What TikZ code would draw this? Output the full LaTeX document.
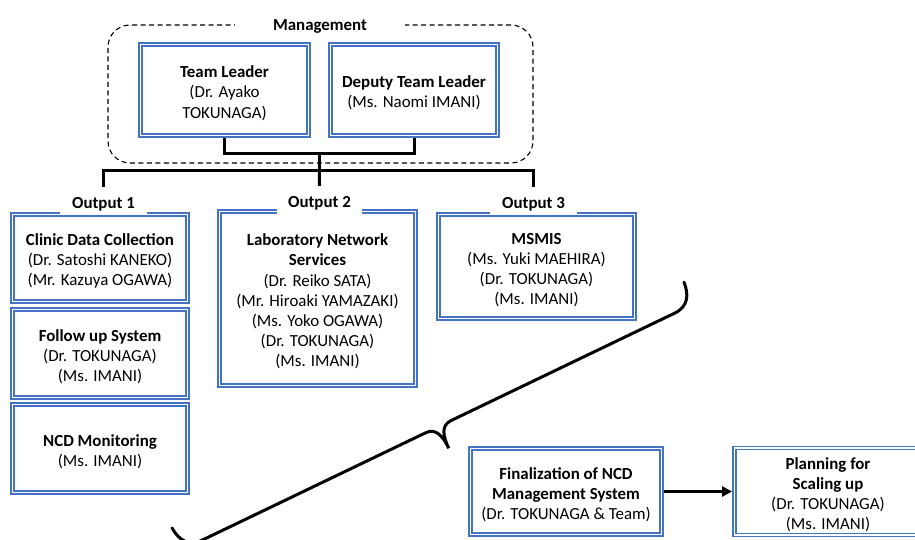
\documentclass[tikz,border=0pt]{standalone}
\usepackage{fontspec}
\setmainfont{Carlito}
\usetikzlibrary{arrows.meta}
\definecolor{boxblue}{HTML}{4472C4}
% invisible strut that gives every box's first line the same top room
\newcommand\firstline{\rule{0pt}{18pt}}
\begin{document}
\begin{tikzpicture}[x=1pt,y=-1pt,
  txt/.style={font=\fontsize{16.9}{20.2}\selectfont},
  box/.style={txt, draw=boxblue, line width=1.6pt, double=white,
    double distance=1.6pt, fill=white, align=center, inner sep=0pt,
    outer sep=2.4pt},
  tag/.style={fill=white, inner sep=0pt, minimum height=28pt,
    text height=17pt, text depth=2.5pt,
    font=\fontsize{16.9}{20.2}\selectfont\bfseries},
  conn/.style={line width=3pt, draw=black},
  frame/.style={draw=black, line width=1.1pt, dash pattern=on 5pt off 3.5pt,
    rounded corners=22pt, inner sep=0pt},
]
\useasboundingbox (0,0) rectangle (915,539);
\clip (0,0) rectangle (915,539);

% management group
\node[frame, minimum width=425pt, minimum height=138pt] (mgmt) at (320.5,94) {};
\node[tag, minimum width=170pt] (mgmttitle) at (320,23) {Management};

\node[box, minimum width=168pt, minimum height=91pt] (tl) at (224.5,90)
  {\firstline\textbf{Team Leader}\\(Dr. Ayako\\TOKUNAGA)};
\node[box, minimum width=167pt, minimum height=91pt] (dtl) at (414,90)
  {\firstline\textbf{Deputy Team Leader}\\(Ms. Naomi IMANI)};

% output 1
\node[box, minimum width=175pt, minimum height=87pt] (clinic) at (100,258)
  {\firstline\textbf{Clinic Data Collection}\\(Dr. Satoshi KANEKO)\\(Mr. Kazuya OGAWA)};
\node[box, minimum width=175pt, minimum height=88pt] (follow) at (100,353.5)
  {\firstline\textbf{Follow up System}\\(Dr. TOKUNAGA)\\(Ms. IMANI)};
\node[box, minimum width=175pt, minimum height=88pt] (ncd) at (100,448.5)
  {\firstline\textbf{NCD Monitoring}\\(Ms. IMANI)};

% output 2
\node[box, minimum width=196pt, minimum height=174pt] (lab) at (317.5,298.5)
  {\firstline\textbf{Laboratory Network}\\\textbf{Services}\\(Dr. Reiko SATA)\\(Mr. Hiroaki YAMAZAKI)\\(Ms. Yoko OGAWA)\\(Dr. TOKUNAGA)\\(Ms. IMANI)};

% output 3
\node[box, minimum width=196pt, minimum height=104pt] (msmis) at (536.5,266.5)
  {\firstline\textbf{MSMIS}\\(Ms. Yuki MAEHIRA)\\(Dr. TOKUNAGA)\\(Ms. IMANI)};

% next steps
\node[box, minimum width=191pt, minimum height=86pt] (fin) at (566,491.5)
  {\firstline\textbf{Finalization of NCD}\\\textbf{Management System}\\(Dr. TOKUNAGA \& Team)};
\node[box, minimum width=187pt, minimum height=87pt] (plan) at (828,491.5)
  {\firstline\textbf{Planning for}\\\textbf{Scaling up}\\(Dr. TOKUNAGA)\\(Ms. IMANI)};

% output headings
\node[tag, minimum width=87pt] (o1) at (103.5,201) {Output 1};
\node[tag, minimum width=85pt] (o2) at (319.5,200) {Output 2};
\node[tag, minimum width=87pt] (o3) at (533.5,201) {Output 3};

% connectors
\coordinate (mgmtjoin) at (319.25,153);
\coordinate (branch) at (319.25,170);
\draw[conn] (tl.south) |- (mgmtjoin) -| (dtl.south);
\draw[conn] (mgmtjoin) -- (branch);
\draw[conn] (o1.north) |- (branch) -| (o3.north);
\draw[conn] (branch) -- (o2.north);
\draw[conn, -{Triangle[length=10pt,width=10pt]}] (fin.east) -- (plan.west);

% brace gathering the outputs
\begin{scope}[shift={(172,528)}, rotate=25.66]
  \draw[conn, line cap=round]
    (0,0) .. controls (1,14) and (7,24) .. (22,24)
    -- (270,24) .. controls (281,24) and (284,34) .. (284,48)
    .. controls (284,34) and (287,24) .. (298,24)
    -- (546,24) .. controls (561,24) and (567,14) .. (568,0);
\end{scope}
\end{tikzpicture}
\end{document}
